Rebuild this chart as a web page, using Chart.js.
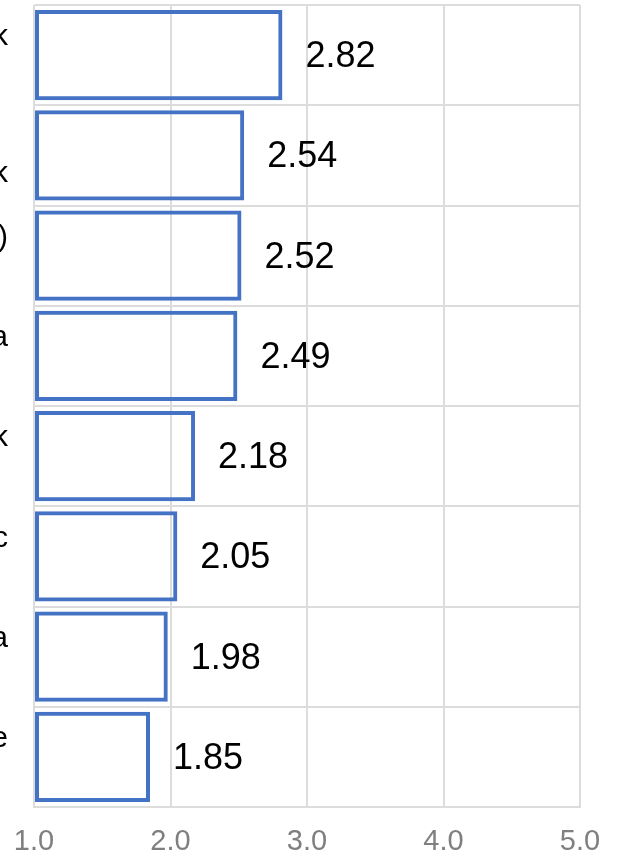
<!DOCTYPE html>
<html>
<head>
<meta charset="utf-8">
<script src="https://cdn.jsdelivr.net/npm/chart.js@4"></script>
<style>
  html, body { margin: 0; padding: 0; background: #fff; }
  canvas { display: block; }
</style>
</head>
<body>
<canvas id="chart" width="623" height="858"></canvas>
<script>
// categories (only the clipped tail of each name is visible in the picture)
const categories = [['k', ''], ['', 'k'], [')', ''], ['a', ''], ['k', ''], ['c', ''], ['a', ''], ['e', '']];
const scores = [2.82, 2.54, 2.52, 2.49, 2.18, 2.05, 1.98, 1.85];
const xTicks = [1, 2, 3, 4, 5];

const FONT = '"Liberation Sans", Arial, sans-serif';
const gridColor = '#dcdcdc';

// write each value next to its bar
const valueLabels = {
    id: 'valueLabels',
    afterDatasetsDraw(chart) {
        const ctx = chart.ctx;
        const meta = chart.getDatasetMeta(0);
        ctx.save();
        ctx.font = '36px ' + FONT;
        ctx.fillStyle = '#000';
        ctx.textAlign = 'left';
        ctx.textBaseline = 'middle';
        meta.data.forEach((bar, i) => {
            ctx.fillText(scores[i].toFixed(2), bar.x + 23, bar.y + 2);
        });
        ctx.restore();
    }
};

new Chart(document.getElementById('chart'), {
    type: 'bar',
    data: {
        labels: categories,
        datasets: [{
            data: scores,
            base: 1,
            backgroundColor: 'rgba(255,255,255,0)',
            borderColor: '#4472C4',
            borderWidth: 4,
            borderSkipped: false,
            barPercentage: 0.9,
            categoryPercentage: 1
        }]
    },
    options: {
        indexAxis: 'y',
        responsive: false,
        animation: false,
        devicePixelRatio: 1,
        layout: { padding: { top: 5, right: 43, bottom: 0, left: 0 } },
        plugins: {
            legend: { display: false },
            tooltip: { enabled: false }
        },
        scales: {
            x: {
                min: 1,
                max: 5,
                afterBuildTicks: (scale) => { scale.ticks = xTicks.map(v => ({ value: v })); },
                afterFit: (scale) => {
                    scale.height = 51;
                    scale.paddingLeft = 0;
                    scale.paddingRight = 0;
                },
                grid: { color: gridColor, lineWidth: 2, drawTicks: false },
                border: { color: gridColor, width: 2 },
                ticks: {
                    padding: 18,
                    color: '#7f7f7f',
                    font: { family: FONT, size: 29 },
                    maxRotation: 0,
                    callback: (v) => Number(v).toFixed(1)
                }
            },
            y: {
                afterFit: (scale) => {
                    scale.width = 34;
                    scale.paddingTop = 0;
                    scale.paddingBottom = 0;
                },
                grid: { color: gridColor, lineWidth: 2, drawTicks: false },
                border: { display: false },
                ticks: {
                    padding: 26,
                    color: '#000',
                    font: { family: FONT, size: 30 }
                }
            }
        }
    },
    plugins: [valueLabels]
});
</script>
</body>
</html>
